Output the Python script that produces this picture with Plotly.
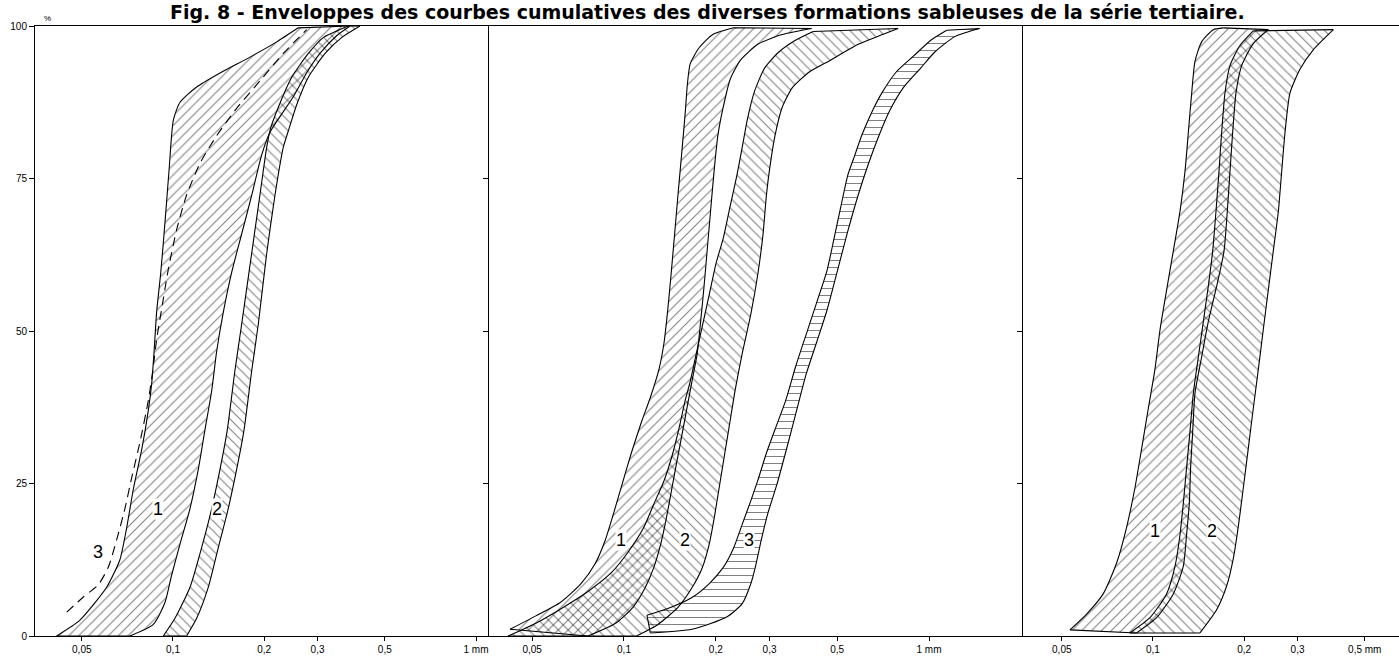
import numpy as np
import plotly.graph_objects as go

# ---------------- data (grain size in mm, cumulative %) ----------------
# Panel 1
p1_env1_left_mm = [0.0413, 0.0493, 0.0604, 0.0668, 0.0703, 0.074, 0.0788, 0.0829, 0.0851, 0.0866, 0.0883,
                   0.0911, 0.0941, 0.0972, 0.1003, 0.1055, 0.1197, 0.143, 0.1795, 0.22, 0.259]
p1_env1_left_pct = [0, 2.6, 8.0, 12.5, 17.7, 24.1, 30.5, 37.0, 41.5, 46.6, 53.1,
                    59.5, 67.8, 76.8, 84.6, 87.5, 90.0, 92.3, 94.9, 97.4, 99.7]
p1_env1_right_mm = [0.0721, 0.0861, 0.0941, 0.099, 0.1055, 0.1138, 0.1212, 0.1275, 0.1342, 0.1393, 0.1466,
                    0.156, 0.1685, 0.182, 0.196, 0.209, 0.2495, 0.276, 0.3055, 0.3467, 0.384]
p1_env1_right_pct = [0, 1.9, 5.5, 10.0, 15.1, 20.9, 27.3, 33.8, 40.2, 46.6, 53.1,
                     59.5, 65.9, 72.3, 78.8, 82.6, 88.4, 92.3, 95.5, 98.4, 100]
p1_env2_pct = [0, 2.9, 8.0, 14.5, 20.9, 27.3, 33.8, 43.4, 51.1, 62.7, 72.3, 80.1, 83.3, 87.1, 91.6, 95.5, 98.1, 100]
p1_env2_left_mm = [0.0929, 0.1015, 0.1138, 0.1243, 0.1342, 0.1429, 0.1511, 0.160, 0.1685, 0.1818, 0.1936,
                   0.2038, 0.2101, 0.2244, 0.2465, 0.2797, 0.3133, 0.379]
p1_env2_right_mm = [0.1109, 0.1197, 0.1308, 0.1411, 0.1522, 0.1622, 0.1716, 0.1818, 0.1912, 0.2038, 0.2171,
                    0.2312, 0.242, 0.256, 0.2797, 0.3176, 0.360, 0.414]
p1_curve3_mm = [0.0446, 0.0506, 0.0567, 0.0612, 0.0652, 0.0694, 0.0731, 0.0778, 0.0829, 0.0857, 0.0883,
                0.0918, 0.0965, 0.1028, 0.1109, 0.1228, 0.1393, 0.1622, 0.1936, 0.2312, 0.2761]
p1_curve3_pct = [3.9, 6.4, 8.4, 11.3, 15.8, 20.9, 26.0, 31.8, 38.6, 43.4, 48.6,
                 53.7, 60.1, 66.6, 72.3, 77.5, 82.0, 86.5, 91.0, 95.5, 99.4]

# Panel 2
p2_env1_left_mm = [0.0423, 0.0514, 0.0618, 0.0723, 0.0803, 0.0868, 0.0927, 0.099, 0.1057, 0.1143, 0.122, 0.1302,
                   0.1354, 0.1391, 0.1427, 0.1465, 0.1503, 0.1544, 0.1585, 0.1614, 0.1648, 0.1761, 0.1954, 0.2286]
p2_env1_left_pct = [1.1, 3.3, 5.5, 8.6, 11.8, 15.7, 20.3, 25.2, 30.0, 35.2, 39.1, 43.7,
                    48.2, 53.4, 59.3, 65.8, 72.3, 78.8, 85.3, 90.5, 93.8, 96.4, 98.6, 99.7]
p2_env1_right_mm = [0.0762, 0.0939, 0.107, 0.1173, 0.1252, 0.132, 0.1373, 0.1427, 0.1484, 0.1544, 0.1606, 0.167,
                    0.1738, 0.1783, 0.183, 0.1878, 0.1928, 0.198, 0.2032, 0.2113, 0.2227, 0.2409, 0.2746, 0.3298, 0.412]
p2_env1_right_pct = [0, 2.1, 4.7, 7.9, 11.2, 15.1, 19.0, 23.5, 28.1, 32.6, 37.2, 41.7,
                     46.3, 51.5, 57.3, 63.8, 70.4, 76.9, 82.1, 86.6, 91.2, 94.4, 97.0, 98.6, 99.6]
p2_env2_left_mm = [0.0417, 0.0514, 0.0618, 0.0762, 0.0914, 0.1043, 0.1158, 0.1252, 0.1354, 0.1446, 0.1524, 0.1585,
                   0.1648, 0.1714, 0.1806, 0.1904, 0.2006, 0.2113, 0.2227, 0.2347, 0.2441, 0.2538, 0.2675, 0.289,
                   0.3213, 0.366, 0.417]
p2_env2_left_pct = [0, 2.1, 4.4, 7.3, 10.5, 14.1, 17.7, 21.6, 25.5, 30.0, 34.6, 38.5,
                    41.7, 45.6, 50.8, 56.0, 61.2, 65.1, 70.4, 75.6, 80.1, 84.7, 89.2, 93.1,
                    95.7, 97.7, 99.1]
p2_env2_right_mm = [0.1099, 0.1285, 0.1503, 0.167, 0.1806, 0.1904, 0.198, 0.2059, 0.2141, 0.2227, 0.2316, 0.2441,
                    0.2606, 0.2746, 0.2856, 0.2931, 0.3009, 0.3129, 0.3298, 0.3565, 0.406, 0.4755, 0.586, 0.704, 0.792]
p2_env2_right_pct = [0, 1.8, 4.7, 7.9, 11.2, 15.1, 19.6, 24.8, 30.0, 35.2, 40.4, 46.3,
                     52.8, 59.3, 65.8, 72.3, 76.9, 82.1, 86.6, 89.9, 92.5, 94.4, 97.0, 98.6, 99.6]
p2_env3_left_mm = [0.1189, 0.1427, 0.167, 0.1904, 0.2113, 0.2286, 0.2441, 0.2606, 0.2746, 0.2931, 0.3129, 0.3384,
                   0.366, 0.396, 0.4285, 0.463, 0.488, 0.514, 0.542, 0.571, 0.602, 0.651, 0.704, 0.782, 0.891,
                   1.016, 1.143]
p2_env3_left_pct = [3.4, 4.7, 6.3, 8.6, 11.2, 14.4, 18.3, 22.2, 25.5, 30.0, 33.9, 38.5,
                    44.3, 49.5, 54.7, 59.9, 65.1, 70.4, 75.6, 78.8, 82.1, 86.0, 89.2, 92.5, 95.1,
                    97.7, 99.3]
p2_env3_right_mm = [0.122, 0.167, 0.217, 0.2441, 0.2606, 0.271, 0.2818, 0.297, 0.317, 0.3384, 0.366, 0.396,
                    0.4285, 0.463, 0.501, 0.542, 0.586, 0.634, 0.686, 0.741, 0.824, 0.939, 1.043, 1.219, 1.465]
p2_env3_right_pct = [0.5, 1.1, 3.1, 5.3, 8.6, 11.8, 15.7, 20.3, 24.8, 30.0, 36.5, 43.0,
                     48.2, 53.4, 59.9, 66.4, 72.3, 77.5, 82.1, 86.0, 89.9, 93.1, 95.7, 98.3, 99.6]

# Panel 3
p3_env1_left_mm = [0.0532, 0.0604, 0.0685, 0.0759, 0.0819, 0.0872, 0.0918, 0.0965, 0.1015, 0.1055, 0.1109,
                   0.1167, 0.1228, 0.1275, 0.1308, 0.1342, 0.1376, 0.1447, 0.1581, 0.1706]
p3_env1_left_pct = [1.0, 3.6, 6.9, 12.0, 17.9, 24.3, 30.8, 37.3, 43.7, 50.2, 56.7,
                    63.1, 69.6, 76.1, 82.5, 89.0, 94.2, 97.4, 99.4, 99.7]
p3_env1_right_mm = [0.0883, 0.1028, 0.1167, 0.1259, 0.1291, 0.1318, 0.1331, 0.1352, 0.1376, 0.1447, 0.1522,
                    0.1622, 0.1716, 0.1759, 0.1795, 0.1832, 0.1879, 0.1962, 0.2143, 0.2404]
p3_env1_right_pct = [0.5, 3.0, 6.9, 11.4, 16.6, 21.7, 27.6, 33.4, 39.8, 45.7, 51.5,
                     57.3, 63.1, 69.6, 76.1, 82.5, 89.0, 93.5, 97.1, 99.4]
p3_env2_left_mm = [0.0839, 0.0977, 0.1109, 0.1182, 0.1228, 0.1259, 0.1291, 0.1324, 0.1359, 0.1411, 0.1466,
                   0.1522, 0.1574, 0.1614, 0.1651, 0.1685, 0.1728, 0.1795, 0.1936, 0.2143]
p3_env2_left_pct = [0.5, 3.0, 6.9, 11.4, 16.6, 21.7, 27.6, 33.4, 39.8, 45.7, 51.5,
                    57.3, 63.1, 69.6, 76.1, 82.5, 89.0, 93.5, 96.8, 99.2]
p3_env2_right_mm = [0.1429, 0.1622, 0.175, 0.1841, 0.1912, 0.1987, 0.2064, 0.2143, 0.2227, 0.2312, 0.2402,
                    0.2495, 0.2593, 0.2659, 0.2727, 0.2832, 0.3055, 0.3381, 0.394]
p3_env2_right_pct = [0.5, 4.3, 8.2, 12.7, 17.9, 24.3, 30.8, 37.3, 43.7, 50.2, 56.7,
                     63.1, 69.6, 76.1, 82.5, 89.0, 92.9, 96.1, 99.4]

# axis ticks / labels
x_ticks_12 = [0.05, 0.1, 0.2, 0.3, 0.5, 1]
x_text_12 = ["0,05", "0,1", "0,2", "0,3", "0,5", "1 mm"]
x_ticks_3 = [0.05, 0.1, 0.2, 0.3, 0.5]
x_text_3 = ["0,05", "0,1", "0,2", "0,3", "0,5 mm"]
y_ticks = [0, 25, 50, 75, 100]
y_text = ["0", "25", "50", "75", "100"]

# envelope labels: (panel, label, mm, pct)
labels = [
    (1, "3", 0.0567, 13.8), (1, "1", 0.0895, 20.9), (1, "2", 0.140, 20.9),
    (2, "1", 0.0977, 15.7), (2, "2", 0.1585, 15.7), (2, "3", 0.257, 15.7),
    (3, "1", 0.1015, 17.2), (3, "2", 0.1562, 17.2),
]

title = "Fig. 8 - Enveloppes des courbes cumulatives des diverses formations sableuses de la série tertiaire."

# ---------------- figure ----------------
fig = go.Figure()
FONT = "Liberation Sans, Arial, sans-serif"
LINE = dict(color="black", width=1.1)


def axes(panel):
    sfx = "" if panel == 1 else str(panel)
    return "x" + sfx, "y" + sfx


def envelope(panel, left_x, left_y, right_x, right_y, shape):
    xa, ya = axes(panel)
    xs = list(left_x) + list(reversed(right_x))
    ys = list(left_y) + list(reversed(right_y))
    # hatched area (no outline)
    fig.add_trace(go.Scatter(
        x=xs, y=ys, xaxis=xa, yaxis=ya, mode="lines", fill="toself",
        fillcolor="rgba(0,0,0,0)",
        fillpattern=dict(shape=shape, fgcolor="black", bgcolor="rgba(0,0,0,0)", size=7, solidity=0.15),
        line=dict(width=0, color="rgba(0,0,0,0)"),
        hoverinfo="skip", showlegend=False))
    # smooth boundary curves
    for bx, by in ((left_x, left_y), (right_x, right_y)):
        fig.add_trace(go.Scatter(x=bx, y=by, xaxis=xa, yaxis=ya, mode="lines",
                                 line=dict(LINE, shape="spline", smoothing=0.6),
                                 hoverinfo="skip", showlegend=False))
    # closing segments at bottom and top
    for i in (0, -1):
        fig.add_trace(go.Scatter(x=[left_x[i], right_x[i]], y=[left_y[i], right_y[i]], xaxis=xa, yaxis=ya,
                                 mode="lines", line=LINE, hoverinfo="skip", showlegend=False))


envelope(1, p1_env1_left_mm, p1_env1_left_pct, p1_env1_right_mm, p1_env1_right_pct, "/")
envelope(1, p1_env2_left_mm, p1_env2_pct, p1_env2_right_mm, p1_env2_pct, "\\")
fig.add_trace(go.Scatter(x=p1_curve3_mm, y=p1_curve3_pct, xaxis="x", yaxis="y", mode="lines",
                         line=dict(color="black", width=1.1, dash="9px,6px", shape="spline", smoothing=0.6),
                         hoverinfo="skip", showlegend=False))

envelope(2, p2_env1_left_mm, p2_env1_left_pct, p2_env1_right_mm, p2_env1_right_pct, "/")
envelope(2, p2_env2_left_mm, p2_env2_left_pct, p2_env2_right_mm, p2_env2_right_pct, "\\")
envelope(2, p2_env3_left_mm, p2_env3_left_pct, p2_env3_right_mm, p2_env3_right_pct, "-")

envelope(3, p3_env1_left_mm, p3_env1_left_pct, p3_env1_right_mm, p3_env1_right_pct, "/")
envelope(3, p3_env2_left_mm, p3_env2_left_pct, p3_env2_right_mm, p3_env2_right_pct, "\\")

W, H = 1399, 662
ML, MR, MT, MB = 35, 0, 26, 26
pw = W - ML - MR
ph = H - MT - MB
d1 = (489 - ML) / pw
d2 = (1023 - ML) / pw

axis_common = dict(showline=True, linecolor="black", linewidth=1, showgrid=False, zeroline=False,
                   ticks="outside", tickcolor="black", ticklen=4, tickwidth=1,
                   tickfont=dict(family=FONT, size=10, color="black"))

fig.update_layout(
    width=W, height=H, margin=dict(l=ML, r=MR, t=MT, b=MB),
    paper_bgcolor="white", plot_bgcolor="white", showlegend=False,
    xaxis=dict(axis_common, type="log", domain=[0, d1], range=[-1.4554, 0.0429], anchor="y",
               tickvals=x_ticks_12, ticktext=x_text_12, mirror=True),
    xaxis2=dict(axis_common, type="log", domain=[d1, d2], range=[-1.4426, 0.3082], anchor="y2",
                tickvals=x_ticks_12, ticktext=x_text_12, mirror=True),
    xaxis3=dict(axis_common, type="log", domain=[d2, 1], range=[-1.429, -0.188], anchor="y3",
                tickvals=x_ticks_3, ticktext=x_text_3, mirror=True),
    yaxis=dict(axis_common, range=[0, 100], anchor="x", tickvals=y_ticks, ticktext=y_text, ticklen=5),
    yaxis2=dict(axis_common, range=[0, 100], anchor="x2", tickvals=y_ticks[1:4], showticklabels=False, ticklen=5),
    yaxis3=dict(axis_common, range=[0, 100], anchor="x3", tickvals=y_ticks[1:4], showticklabels=False, ticklen=5),
)

for panel, txt, mm, pct in labels:
    xa, ya = axes(panel)
    fig.add_annotation(x=np.log10(mm), y=pct, xref=xa, yref=ya, text=txt, showarrow=False,
                       font=dict(family=FONT, size=18, color="black"), bgcolor="white", borderpad=0)

fig.add_annotation(x=(707 - ML) / pw, y=1 + (MT - 12) / ph, xref="paper", yref="paper", text="<b>" + title + "</b>",
                   showarrow=False, xanchor="center", yanchor="middle",
                   font=dict(family="DejaVu Sans, sans-serif", size=19, color="black"))
fig.add_annotation(x=(42 - ML) / pw, y=1 + (MT - 12) / ph, xref="paper", yref="paper", text="%",
                   showarrow=False, font=dict(family=FONT, size=8, color="black"))

fig.write_html("out.html", config={"displayModeBar": False})

# remove default page margin so the figure sits at the window's top-left corner
with open("out.html", "r", encoding="utf-8") as f:
    html = f.read()
html = html.replace("<body>", '<body style="margin:0;overflow:hidden">', 1)
with open("out.html", "w", encoding="utf-8") as f:
    f.write(html)
